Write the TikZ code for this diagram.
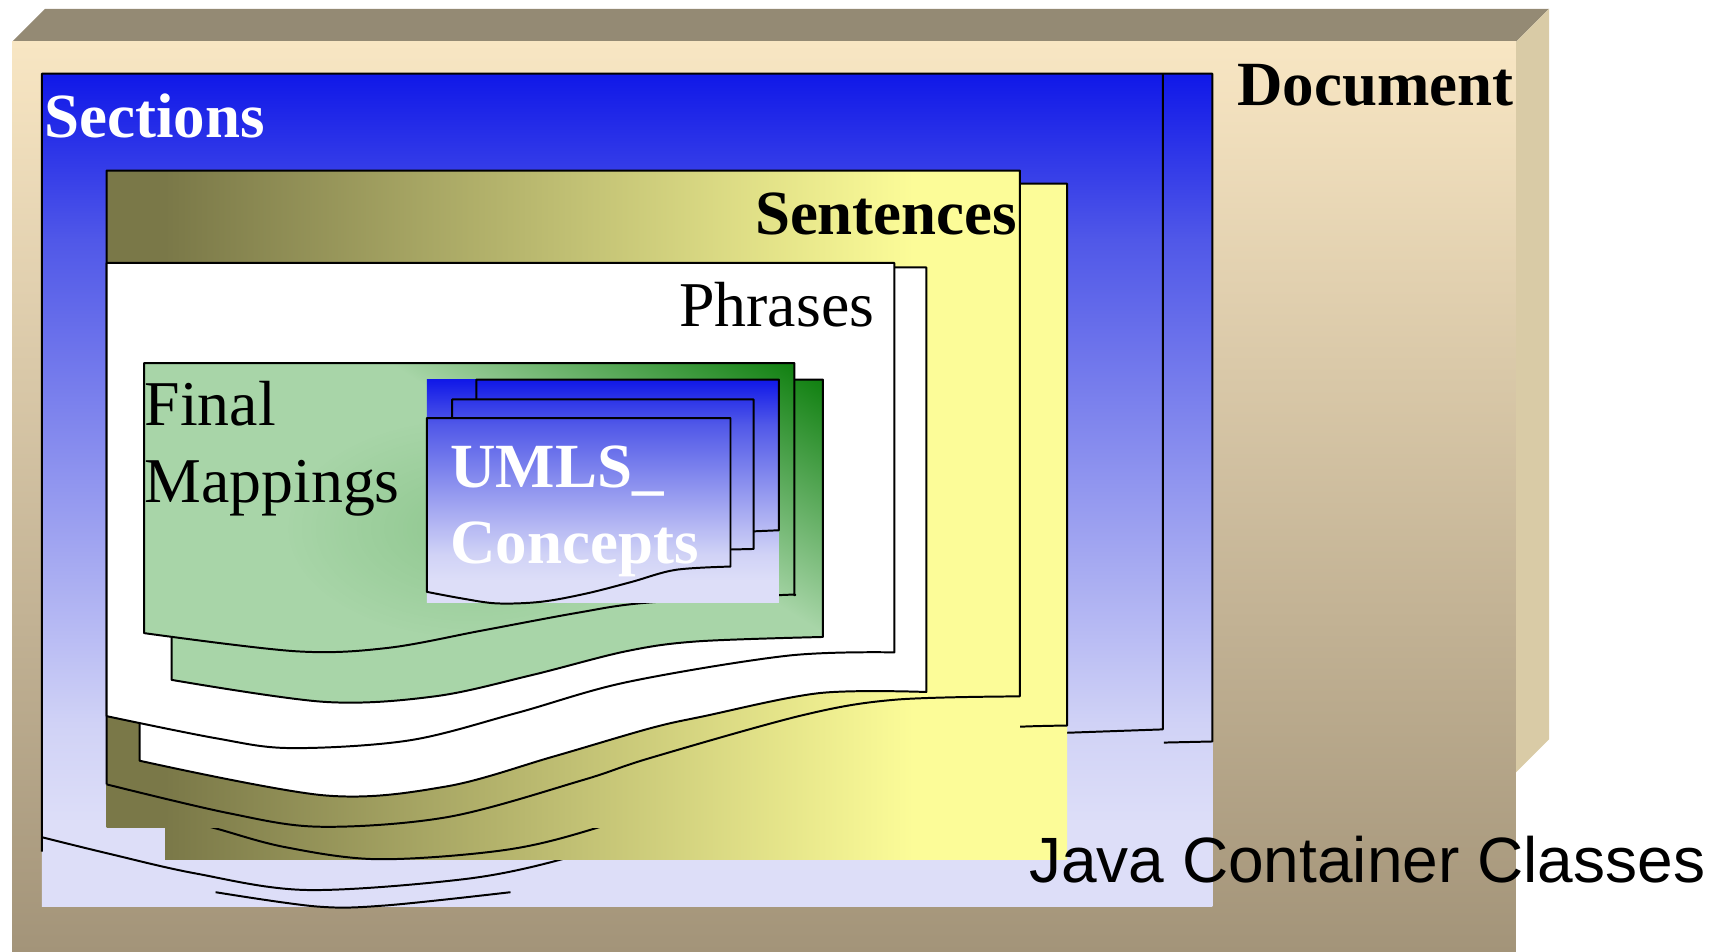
\documentclass[tikz,border=0pt]{standalone}
\usepackage{fontspec}
\usetikzlibrary{fadings}
\setmainfont{Liberation Serif}
\newfontfamily\javafont{Liberation Sans}
\definecolor{topface}{RGB}{148,138,116}
\definecolor{sideface}{RGB}{217,203,166}
\definecolor{boxtop}{RGB}{248,230,195}
\definecolor{boxbot}{RGB}{163,148,121}
\definecolor{blu}{RGB}{16,24,232}
\definecolor{lbA}{RGB}{80,88,232}
\definecolor{lbB}{RGB}{208,210,246}
\definecolor{lav}{RGB}{221,222,248}
\definecolor{olive}{RGB}{122,120,72}
\definecolor{yel}{RGB}{252,252,152}
\definecolor{darkg}{RGB}{16,128,16}
\definecolor{lightg}{RGB}{168,213,168}
\pgfdeclareverticalshading{bluesh}{100bp}{color(0bp)=(lav); color(30bp)=(lav); color(36bp)=(lbB); color(65bp)=(lbA); color(75bp)=(blu); color(100bp)=(blu)}
\pgfdeclarehorizontalshading{sentsh}{100bp}{color(0bp)=(olive); color(28bp)=(olive); color(67bp)=(yel); color(100bp)=(yel)}
\pgfdeclareverticalshading{greensh}{100bp}{color(0bp)=(lightg); color(43bp)=(lightg); color(50bp)=(darkg); color(100bp)=(darkg)}
\tikzfading[name=greenspot, inner color=transparent!0, outer color=transparent!100]
\begin{document}
\begin{tikzpicture}[x=0.5pt,y=-0.5pt,line join=round]
\tikzset{ol/.style={draw=black,line width=0.9pt},
 lbl/.style={inner sep=0pt,font=\fontsize{29}{34}\selectfont},
 bl/.style={inner sep=0pt,font=\fontsize{28.6}{34}\selectfont\bfseries},
 wave/.style={smooth,tension=0.55}}
\useasboundingbox (0,0) rectangle (1568,865);
% 3D box
\fill[topface] (11,38) -- (41,8) -- (1408,8) -- (1378,38) -- cycle;
\fill[sideface] (1378,38) -- (1408,8) -- (1408,672) -- (1378,702) -- cycle;
\shade[top color=boxtop,bottom color=boxbot] (11,38) rectangle (1378,865);
\node[bl,anchor=base east] (doc) at (1376,96) {Document};
% Sections
\shade[shading=bluesh] (38,67) rectangle (1102,824);
\draw[ol] (38,774) -- (38,67) -- (1102,67) -- (1102,674) -- (1058,675);
\draw[ol] (1057,67) -- (1057,663) -- (972,666) -- (940,667);
\draw[ol] plot[wave] coordinates {(38,761) (99,776) (178,794) (279,809) (423,799) (511,781) (560,762)};
\draw[ol] plot[wave] coordinates {(196,811) (288,824) (351,823) (464,811)};
\node[bl,anchor=base west,text=white] (sec) at (40,125) {Sections};
% Sentences
\begin{scope}\clip (150,167) rectangle (970,781); \shade[shading=sentsh] (97,155) rectangle (970,781); \end{scope}
\draw[ol] (150,741) -- (150,167) -- (970,167) -- (970,659.5) -- plot[wave] coordinates {(970,659.5) (929,660.5) (866,664) (782,678) (643,717) (541,753) (458.6,772.7) (343.6,781) (259,770) (196,753) (150,741)};
\begin{scope}\clip (97,155) rectangle (927,752); \shade[shading=sentsh] (97,155) rectangle (970,781); \end{scope}
\draw[ol] (97,713) -- (97,155) -- (927,155) -- (927,633) -- plot[wave] coordinates {(927,633) (814,636) (730,650) (591,689) (530,709) (408,742.5) (291,751.5) (207,739) (97,713)};
\node[bl,anchor=base east] (sen) at (925,213) {Sentences};
% Phrases
\draw[ol,fill=white] (127,691.5) -- (127,243) -- (842,243) -- (842,629) -- plot[wave] coordinates {(842,629) (745,630) (640,651) (591,662) (502,688) (405,715) (295,723) (127,691.5)} -- cycle;
\draw[ol,fill=white] (97,651) -- (97,239) -- (813,239) -- (813,593) -- plot[wave] coordinates {(813,593) (716,596) (570,620) (470,648) (372,673) (264,680) (196,671) (97,651)} -- cycle;
\node[lbl,anchor=base east] (phr) at (795,297) {Phrases};
% Final Mappings
\draw[ol,path picture={\shade[shading=greensh,shading angle=-32] (48,-355) rectangle (1448,1045);}] (156,618) -- (156,345) -- (748,345) -- (748,579) -- plot[wave] coordinates {(748,579) (634,583) (569,592) (482,614) (395,633) (295,638) (156,618)} -- cycle;
\draw[ol,path picture={\shade[shading=greensh,shading angle=-32] (22,-370) rectangle (1422,1030);
   \fill[darkg,opacity=0.16,path fading=greenspot] (260,380) rectangle (600,580);}] (131,575.5) -- (131,330) -- (722,330) -- (722,541) -- plot[wave] coordinates {(722,541) (708,541) (586,548) (525,557) (439,573) (352,589) (269,592) (131,575.5)} -- cycle;
\node[lbl,anchor=base west] (fin1) at (131,387) {Final};
\node[lbl,anchor=base west] (fin2) at (131,457) {Mappings};
% UMLS Concepts
\shade[shading=bluesh] (388,345) rectangle (708,548);
\draw[ol] (433,363) -- (433,345) -- (708,345) -- (708,482) -- (685,483);
\draw[ol] (411,380) -- (411,363) -- (685,363) -- (685,499) -- (664,499.5);
\draw[ol] (388,538) -- (388,380) -- (664,380) -- (664,515) -- plot[wave] coordinates {(664,515) (614,518) (574,529) (533,539.5) (492,547) (452,548.5) (420,544) (388,538)} -- cycle;
\node[bl,anchor=base west,text=white] (um1) at (409,443) {UMLS\_};
\node[bl,anchor=base west,text=white] (um2) at (409,512) {Concepts};
% caption
\node[inner sep=0pt,anchor=base west,font=\javafont\fontsize{29.1}{34}\selectfont] (java) at (935,802) {Java Container Classes};
\end{tikzpicture}
\end{document}
